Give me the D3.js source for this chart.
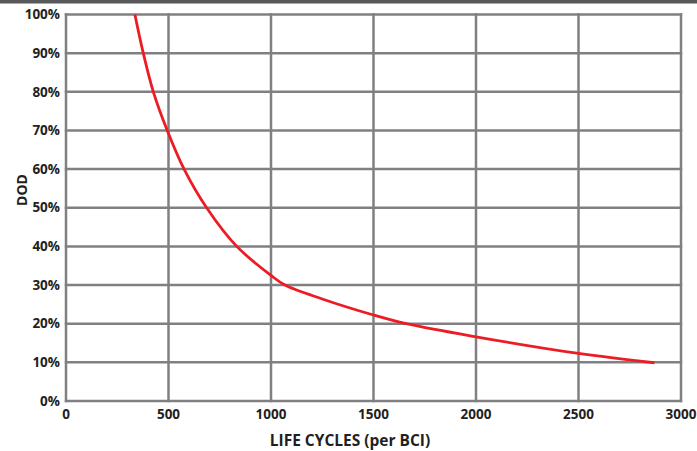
<!DOCTYPE html>
<html>
<head>
<meta charset="utf-8">
<script src="https://cdn.jsdelivr.net/npm/d3@7"></script>
<style>
  body { margin: 0; background: #fff; }
  text { font-family: "Open Sans", sans-serif; font-weight: 700; fill: #231f20; }
</style>
</head>
<body>
<script>
// data
let cycles = [336, 377, 426, 494, 576, 686, 833, 1000, 1068, 1250, 1500, 1660, 2000, 2500, 2870];
let dod = [100, 90, 80, 70, 60, 50, 40, 32.5, 30, 26.4, 22.25, 20, 16.6, 12.3, 9.9];
let xTicks = [0, 500, 1000, 1500, 2000, 2500, 3000];
let yTicks = [0, 10, 20, 30, 40, 50, 60, 70, 80, 90, 100];

let width = 697;
let height = 451;
let margin = {left: 66, top: 14.5, right: 16, bottom: 50};

let svg = d3.select('body')
    .append('svg')
    .attr('width', width)
    .attr('height', height);

// dark strip at the top
svg.append('rect')
    .attr('x', 0).attr('y', 0)
    .attr('width', width).attr('height', 3.5)
    .attr('fill', '#58595b');

let x = d3.scaleLinear().domain([0, 3000]).range([margin.left, width - margin.right]);
let y = d3.scaleLinear().domain([0, 100]).range([height - margin.bottom, margin.top]);

let gridColor = '#808083';

// grid
svg.selectAll('.vgrid')
    .data(xTicks)
    .enter()
    .append('line')
    .attr('x1', d => x(d)).attr('x2', d => x(d))
    .attr('y1', y(0) + 1.2).attr('y2', y(100) - 1.2)
    .attr('stroke', gridColor)
    .attr('stroke-width', 2.5);

svg.selectAll('.hgrid')
    .data(yTicks)
    .enter()
    .append('line')
    .attr('x1', x(0) - 1.2).attr('x2', x(3000) + 1.2)
    .attr('y1', d => y(d)).attr('y2', d => y(d))
    .attr('stroke', gridColor)
    .attr('stroke-width', 2.5);

// tick labels
svg.selectAll('.ylab')
    .data(yTicks)
    .enter()
    .append('text')
    .attr('x', x(0) - 6)
    .attr('y', d => y(d))
    .attr('dy', '0.35em')
    .attr('text-anchor', 'end')
    .attr('font-size', '13.5px')
    .text(d => d + '%');

svg.selectAll('.xlab')
    .data(xTicks)
    .enter()
    .append('text')
    .attr('x', d => x(d))
    .attr('y', y(0) + 18)
    .attr('text-anchor', 'middle')
    .attr('font-size', '13.5px')
    .text(d => d);

// axis titles
svg.append('text')
    .attr('x', 350)
    .attr('y', 446)
    .attr('text-anchor', 'middle')
    .attr('font-size', '15.5px')
    .text('LIFE CYCLES (per BCI)');

svg.append('text')
    .attr('transform', 'translate(27,190) rotate(-90)')
    .attr('text-anchor', 'middle')
    .attr('font-size', '14px')
    .text('DOD');

// curve
let pts = cycles.map((c, i) => [c, dod[i]]);
let line = d3.line()
    .x(d => x(d[0]))
    .y(d => y(d[1]))
    .curve(d3.curveCatmullRom.alpha(0.5));

svg.append('path')
    .datum(pts)
    .attr('d', line)
    .attr('fill', 'none')
    .attr('stroke', '#ed1c24')
    .attr('stroke-width', 2.8);
</script>
</body>
</html>
